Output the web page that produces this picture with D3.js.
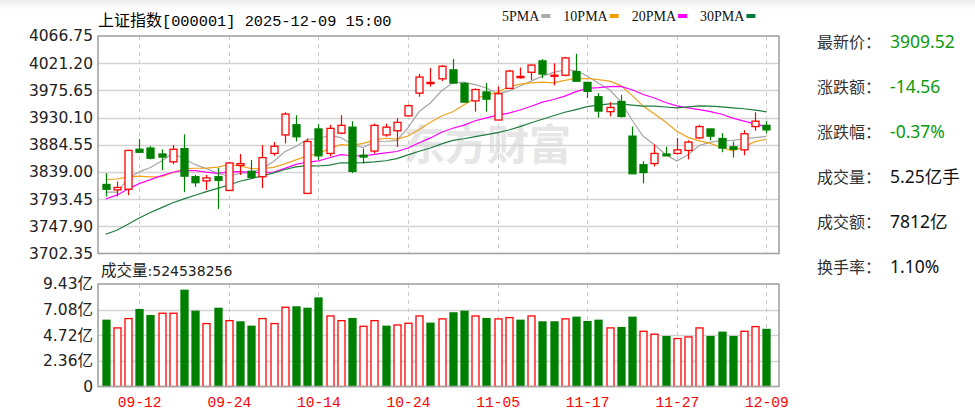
<!DOCTYPE html>
<html>
<head>
<meta charset="utf-8">
<script src="https://cdnjs.cloudflare.com/ajax/libs/d3/7.8.5/d3.min.js"></script>
<style>
	body { margin: 0; background: #fff; }
	svg { display: block; }
</style>
</head>
<body>
<div id="chart"></div>
<script>
// trading days shown
var dates = ["09-09","09-10","09-11","09-12","09-15","09-16","09-17","09-18","09-19","09-22",
	"09-23","09-24","09-25","09-26","09-29","09-30","10-09","10-10","10-13","10-14",
	"10-15","10-16","10-17","10-20","10-21","10-22","10-23","10-24","10-27","10-28",
	"10-29","10-30","10-31","11-03","11-04","11-05","11-06","11-07","11-10","11-11",
	"11-12","11-13","11-14","11-17","11-18","11-19","11-20","11-21","11-24","11-25",
	"11-26","11-27","11-28","12-01","12-02","12-03","12-04","12-05","12-08","12-09"];

var opens = [3818,3809,3810,3877,3879,3869,3856,3878,3831,3824,
	3831,3808,3850,3840,3831,3870,3901,3918,3803,3911,
	3870,3904,3914,3867,3874,3901,3908,3933,3971,3987,
	3995,4010,3987,3958,3973,3926,3979,3997,4006,4025,
	4000,4001,4007,3989,3965,3940,3957,3899,3851,3853,
	3869,3870,3875,3896,3911,3895,3881,3876,3915,3917];

var highs = [3837,3823,3876,3894,3882,3877,3884,3902,3834,3834,
	3846,3856,3869,3859,3884,3889,3939,3934,3895,3919,
	3918,3934,3924,3878,3920,3920,3929,3952,4003,4013,
	4018,4028,3989,3979,3988,3982,4010,4014,4019,4028,
	4021,4032,4037,3990,3971,3956,3968,3915,3857,3885,
	3881,3896,3892,3918,3911,3904,3890,3909,3939,3924];

var lows = [3798,3798,3800,3871,3860,3842,3852,3805,3814,3809,
	3777,3808,3834,3831,3812,3866,3887,3890,3803,3859,
	3865,3902,3837,3853,3870,3898,3881,3933,3965,3982,
	3991,3987,3956,3940,3940,3926,3978,3995,3993,3996,
	3984,3999,3993,3963,3930,3932,3930,3836,3820,3848,
	3866,3868,3860,3894,3892,3872,3863,3867,3908,3904];

var closes = [3810,3813,3875,3872,3862,3864,3877,3832,3821,3829,
	3825,3854,3853,3830,3863,3882,3936,3898,3890,3866,
	3912,3917,3840,3864,3917,3914,3922,3950,3998,3989,
	4016,3988,3956,3977,3961,3970,4008,3999,4018,4003,
	4001,4030,3991,3974,3941,3947,3932,3836,3838,3870,
	3866,3876,3889,3915,3899,3879,3877,3903,3924.08,3909.52];

// volume, 亿手
var volumes = [6.09,5.39,6.25,7.07,6.52,6.74,6.74,8.85,6.92,5.79,
	7.19,6.06,5.94,5.54,6.25,5.79,7.29,7.32,7.19,8.14,
	6.49,6.06,6.25,5.54,6.06,5.54,5.66,5.82,6.49,5.82,
	6.22,6.77,6.92,6.49,6.25,6.22,6.34,6.09,6.49,5.94,
	5.94,6.22,6.37,5.97,6.09,5.39,5.42,6.37,5.08,4.81,
	4.59,4.41,4.56,5.39,4.59,4.99,4.59,5.08,5.51,5.25];

// closes of the 29 sessions before 09-09, only used to seed the moving averages
var priorCloses = [3615,3573,3559,3583,3617,3633,3639,3635,3647,3665,
	3683,3666,3696,3728,3727,3766,3771,3825,3883,3868,
	3800,3843,3857,3875,3858,3813,3765,3812,3826];

var priceTicks = [3702.35,3747.90,3793.45,3839.00,3884.55,3930.10,3975.65,4021.20,4066.75];
var volumeTicks = [0,2.36,4.72,7.08,9.43];
var volumeTickLabels = ["0","2.36亿","4.72亿","7.08亿","9.43亿"];
var dateLabels = ["09-12","09-24","10-14","10-24","11-05","11-17","11-27","12-09"];

var maPeriods = [5,10,20,30];
var maNames = ["5PMA","10PMA","20PMA","30PMA"];

var quoteLabels = ["最新价：","涨跌额：","涨跌幅：","成交量：","成交额：","换手率："];
var quoteValues = ["3909.52","-14.56","-0.37%","5.25亿手","7812亿","1.10%"];
var quoteDown = [true,true,true,false,false,false];

var titleName = "上证指数";
var titleCode = "[000001] 2025-12-09 15:00";
var volumeTitle = "成交量";
var volumeLast = "524538256";

// styles
var RED = "#ff0000", GREEN = "#008000";
var maColors = ["#a6a6a6","#f3a21b","#ff00ff","#1d7c3c"];
var legendColors = ["#aaaaaa","#f0a000","#ff00ff","#007a3a"];

var W = 975, H = 420;
var frame = { left: 98, right: 779, top: 36, bottom: 253.5 };
var vframe = { left: 98, right: 779, top: 284, bottom: 386.5 };

var svg = d3.select("#chart").append("svg")
	.attr("width", W)
	.attr("height", H)
	.style("font-family", "'DejaVu Sans', 'Noto Sans CJK SC', sans-serif");

// faint header shading
var grad = svg.append("defs").append("linearGradient")
	.attr("id", "head").attr("x1", 0).attr("y1", 0).attr("x2", 0).attr("y2", 1);
grad.append("stop").attr("offset", "0%").attr("stop-color", "#ececec");
grad.append("stop").attr("offset", "100%").attr("stop-color", "#ffffff");
svg.append("rect").attr("x", 0).attr("y", 0).attr("width", W).attr("height", 10).attr("fill", "url(#head)");

var x = d3.scalePoint().domain(dates).range([105.6, 766.4]);
var y = d3.scaleLinear().domain([priceTicks[0], priceTicks[priceTicks.length - 1]]).range([frame.bottom, frame.top]);
var yv = d3.scaleLinear().domain([0, volumeTicks[volumeTicks.length - 1]]).range([vframe.bottom, vframe.top]);

var bodyW = 7;

// watermark
svg.append("text")
	.attr("x", 403)
	.attr("y", 160)
	.attr("fill", "#e6e6e6")
	.style("font-family", "'Noto Sans CJK SC', sans-serif")
	.style("font-weight", "bold")
	.style("font-size", "42px")
	.text("东方财富");

// grid, price panel
svg.append("g").selectAll("line")
	.data(priceTicks.slice(1, -1))
	.enter().append("line")
	.attr("x1", frame.left).attr("x2", frame.right)
	.attr("y1", function(d) { return Math.round(y(d)) + 0.5; })
	.attr("y2", function(d) { return Math.round(y(d)) + 0.5; })
	.attr("stroke", "#d4d4d4").attr("stroke-width", 1.3);

svg.append("g").selectAll("line")
	.data(volumeTicks.slice(1, -1))
	.enter().append("line")
	.attr("x1", vframe.left).attr("x2", vframe.right)
	.attr("y1", function(d) { return Math.round(yv(d)) + 0.5; })
	.attr("y2", function(d) { return Math.round(yv(d)) + 0.5; })
	.attr("stroke", "#d4d4d4").attr("stroke-width", 1.3);

// dashed date lines in both panels
[frame, vframe].forEach(function(f) {
	svg.append("g").selectAll("line")
		.data(dateLabels)
		.enter().append("line")
		.attr("x1", function(d) { return Math.round(x(d)) + 0.5; })
		.attr("x2", function(d) { return Math.round(x(d)) + 0.5; })
		.attr("y1", f.top).attr("y2", f.bottom)
		.attr("stroke", "#cccccc")
		.attr("stroke-dasharray", "4,4");
});

// moving averages
var allCloses = priorCloses.concat(closes);

function movingAverage(n) {
	return closes.map(function(c, i) {
		var k = i + priorCloses.length;
		return d3.mean(allCloses.slice(k - n + 1, k + 1));
	});
}

var line = d3.line()
	.x(function(d, i) { return x(dates[i]); })
	.y(function(d) { return y(d); });

maPeriods.forEach(function(n, j) {
	svg.append("path")
		.datum(movingAverage(n))
		.attr("d", line)
		.attr("fill", "none")
		.attr("stroke", maColors[j])
		.attr("stroke-width", 1.2);
});

// candles
var candles = svg.append("g").selectAll("g")
	.data(dates.map(function(d, i) {
		return { date: d, o: opens[i], h: highs[i], l: lows[i], c: closes[i] };
	}))
	.enter().append("g");

function candleColor(d) { return d.c >= d.o ? RED : GREEN; }

candles.append("line")
	.attr("x1", function(d) { return Math.round(x(d.date)) + 0.5; })
	.attr("x2", function(d) { return Math.round(x(d.date)) + 0.5; })
	.attr("y1", function(d) { return y(d.h); })
	.attr("y2", function(d) { return y(d.l); })
	.attr("stroke", candleColor)
	.attr("stroke-width", 1.2);

candles.append("rect")
	.attr("x", function(d) { return Math.round(x(d.date)) - bodyW / 2 + 0.5; })
	.attr("y", function(d) { return y(Math.max(d.o, d.c)); })
	.attr("width", bodyW)
	.attr("height", function(d) { return Math.max(1, y(Math.min(d.o, d.c)) - y(Math.max(d.o, d.c))); })
	.attr("fill", function(d) { return d.c >= d.o ? "#fff" : GREEN; })
	.attr("stroke", candleColor)
	.attr("stroke-width", 1.3);

// volume bars, coloured by change against previous close
svg.append("g").selectAll("rect")
	.data(volumes)
	.enter().append("rect")
	.attr("x", function(d, i) { return Math.round(x(dates[i])) - bodyW / 2 + 0.5; })
	.attr("y", function(d) { return yv(d); })
	.attr("width", bodyW)
	.attr("height", function(d) { return vframe.bottom - yv(d); })
	.attr("fill", function(d, i) { return closes[i] >= allCloses[i + priorCloses.length - 1] ? "#fff" : GREEN; })
	.attr("stroke", function(d, i) { return closes[i] >= allCloses[i + priorCloses.length - 1] ? RED : GREEN; })
	.attr("stroke-width", 1.3);

// frames
[frame, vframe].forEach(function(f) {
	svg.append("rect")
		.attr("x", f.left).attr("y", f.top)
		.attr("width", f.right - f.left).attr("height", f.bottom - f.top)
		.attr("fill", "none")
		.attr("stroke", "#a3a3a3")
		.attr("stroke-width", 1.6);
});

// axes
var yAxis = svg.append("g")
	.attr("transform", "translate(93,0)")
	.call(d3.axisLeft(y).tickValues(priceTicks).tickFormat(d3.format(".2f")).tickSize(0).tickPadding(0));

var vAxis = svg.append("g")
	.attr("transform", "translate(93,0)")
	.call(d3.axisLeft(yv).tickValues(volumeTicks).tickFormat(function(d, i) { return volumeTickLabels[i]; }).tickSize(0).tickPadding(0));

[yAxis, vAxis].forEach(function(a) {
	a.select(".domain").remove();
	a.selectAll("text")
		.attr("fill", "#222")
		.style("font-family", "'DejaVu Sans', 'Noto Sans CJK SC', sans-serif")
		.style("font-size", "15.5px");
});

var xAxis = svg.append("g")
	.attr("transform", "translate(0," + vframe.bottom + ")")
	.call(d3.axisBottom(x).tickValues(dateLabels).tickSize(0).tickPadding(10));

xAxis.select(".domain").remove();
xAxis.selectAll("text")
	.attr("fill", RED)
	.style("font-family", "'Liberation Mono', monospace")
	.style("font-size", "14.6px");

// title
var title = svg.append("text").attr("x", 98).attr("y", 26).attr("fill", "#000");
title.append("tspan")
	.style("font-family", "'Noto Sans CJK SC', sans-serif")
	.style("font-size", "16px")
	.text(titleName);
title.append("tspan")
	.style("font-family", "'Liberation Mono', monospace")
	.style("font-size", "15.3px")
	.text(titleCode);

// legend
var cursor = 502;
maNames.forEach(function(name, j) {
	var t = svg.append("text")
		.attr("x", cursor).attr("y", 21)
		.attr("fill", "#111")
		.style("font-family", "'Liberation Serif', serif")
		.style("font-size", "14px")
		.text(name);
	var w = t.node().getComputedTextLength();
	svg.append("rect")
		.attr("x", cursor + w + 2).attr("y", 14)
		.attr("width", 9).attr("height", 4)
		.attr("fill", legendColors[j]);
	cursor += w + 2 + 9 + 13;
});

// volume title
var vt = svg.append("text").attr("x", 101).attr("y", 276).attr("fill", "#222");
vt.append("tspan")
	.style("font-family", "'Noto Sans CJK SC', sans-serif")
	.style("font-size", "15.5px")
	.text(volumeTitle);
vt.append("tspan")
	.style("font-family", "'DejaVu Sans', sans-serif")
	.style("font-size", "14px")
	.text(":" + volumeLast);

// quote panel
var rows = svg.append("g").selectAll("g")
	.data(quoteLabels)
	.enter().append("g")
	.attr("transform", function(d, i) { return "translate(817," + (48 + i * 45) + ")"; });

rows.append("text")
	.attr("fill", "#333")
	.style("font-family", "'Noto Sans CJK SC', sans-serif")
	.style("font-size", "16px")
	.text(function(d) { return d; });

rows.append("text")
	.attr("x", 73)
	.attr("fill", function(d, i) { return quoteDown[i] ? "#0a9a0a" : "#111"; })
	.style("font-family", "'Noto Sans', 'Noto Sans CJK SC', sans-serif")
	.style("font-size", "17.5px")
	.text(function(d, i) { return quoteValues[i]; });
</script>
</body>
</html>
